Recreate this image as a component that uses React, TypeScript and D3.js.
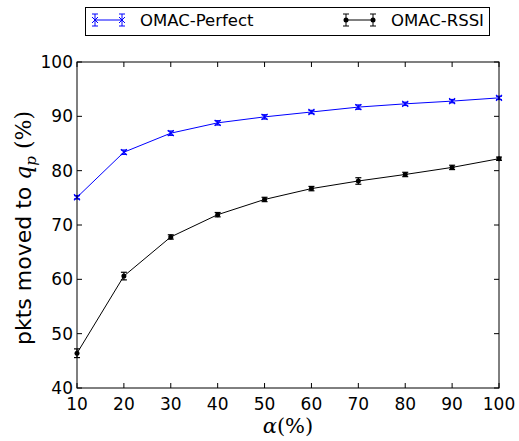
import React from "react";
import * as d3 from "d3";

const alphas = [10, 20, 30, 40, 50, 60, 70, 80, 90, 100];
const perfect = [75.1, 83.4, 86.9, 88.8, 89.9, 90.8, 91.7, 92.3, 92.8, 93.4];
const perfectErr = [0.3, 0.4, 0.4, 0.4, 0.4, 0.3, 0.4, 0.3, 0.3, 0.3];
const rssi = [46.4, 60.6, 67.8, 71.9, 74.7, 76.7, 78.1, 79.3, 80.6, 82.2];
const rssiErr = [0.8, 0.7, 0.4, 0.4, 0.4, 0.4, 0.6, 0.4, 0.4, 0.3];
const yTicks = [40, 50, 60, 70, 80, 90, 100];

const W = 519;
const H = 441;
const M = { left: 77, right: 20, top: 62, bottom: 53 };
const FONT = "DejaVu Sans, sans-serif";
const SERIF = "DejaVu Serif, Liberation Serif, serif";

function Series({ ys, errs, color, marker, x, y }: any) {
  const line = d3
    .line<number>()
    .x((_, i) => x(alphas[i]))
    .y((d) => y(d));
  return (
    <g>
      <path d={line(ys) || ""} fill="none" stroke={color} strokeWidth={1} />
      {ys.map((v: number, i: number) => {
        const cx = x(alphas[i]);
        const top = y(v + errs[i]);
        const bot = y(v - errs[i]);
        return (
          <g key={i} stroke={color} strokeWidth={1.2}>
            <line x1={cx} x2={cx} y1={top} y2={bot} />
            <line x1={cx - 3} x2={cx + 3} y1={top} y2={top} />
            <line x1={cx - 3} x2={cx + 3} y1={bot} y2={bot} />
            {marker === "x" ? (
              <path
                d={`M${cx - 3},${y(v) - 3}L${cx + 3},${y(v) + 3}M${cx - 3},${y(v) + 3}L${cx + 3},${y(v) - 3}`}
              />
            ) : (
              <circle cx={cx} cy={y(v)} r={2.5} fill={color} stroke="none" />
            )}
          </g>
        );
      })}
    </g>
  );
}

function LegendItem({ x0, color, marker, label }: any) {
  const yy = 20;
  const ex = [x0, x0 + 27];
  return (
    <g>
      <line x1={ex[0]} x2={ex[1]} y1={yy} y2={yy} stroke={color} />
      {ex.map((cx, i) => (
        <g key={i} stroke={color}>
          <line x1={cx} x2={cx} y1={yy - 6} y2={yy + 6} />
          <line x1={cx - 3} x2={cx + 3} y1={yy - 6} y2={yy - 6} />
          <line x1={cx - 3} x2={cx + 3} y1={yy + 6} y2={yy + 6} />
          {marker === "x" ? (
            <path d={`M${cx - 3},${yy - 3}L${cx + 3},${yy + 3}M${cx - 3},${yy + 3}L${cx + 3},${yy - 3}`} />
          ) : (
            <circle cx={cx} cy={yy} r={2.5} fill={color} stroke="none" />
          )}
        </g>
      ))}
      <text x={x0 + 45} y={yy + 6} fontSize={16.5} fontFamily={FONT} fill="#000">
        {label}
      </text>
    </g>
  );
}

export default function App() {
  const x = d3.scaleLinear().domain([10, 100]).range([M.left, W - M.right]);
  const y = d3.scaleLinear().domain([40, 100]).range([H - M.bottom, M.top]);
  const [x0, x1] = x.range();
  const [y0, y1] = y.range();

  return (
    <svg width={W} height={H} style={{ position: "absolute", left: 0, top: 0 }}>
      <rect width={W} height={H} fill="#fff" />
      {/* legend */}
      <rect x={85.5} y={7.5} width={404} height={28} fill="#fff" stroke="#000" strokeWidth={1} />
      <LegendItem x0={95} color="#0000ff" marker="x" label="OMAC-Perfect" />
      <LegendItem x0={346} color="#000" marker="o" label="OMAC-RSSI" />

      <Series ys={perfect} errs={perfectErr} color="#0000ff" marker="x" x={x} y={y} />
      <Series ys={rssi} errs={rssiErr} color="#000" marker="o" x={x} y={y} />

      {/* frame */}
      <rect x={x0} y={y1} width={x1 - x0} height={y0 - y1} fill="none" stroke="#000" strokeWidth={1} />

      {alphas.map((a) => (
        <g key={a}>
          <line x1={x(a)} x2={x(a)} y1={y0} y2={y0 - 5} stroke="#000" />
          <line x1={x(a)} x2={x(a)} y1={y1} y2={y1 + 5} stroke="#000" />
          <text x={x(a)} y={y0 + 22} textAnchor="middle" fontSize={17} fontFamily={FONT}>
            {a}
          </text>
        </g>
      ))}
      {yTicks.map((t) => (
        <g key={t}>
          <line x1={x0} x2={x0 + 5} y1={y(t)} y2={y(t)} stroke="#000" />
          <line x1={x1} x2={x1 - 5} y1={y(t)} y2={y(t)} stroke="#000" />
          <text x={x0 - 4} y={y(t) + 6} textAnchor="end" fontSize={17} fontFamily={FONT}>
            {t}
          </text>
        </g>
      ))}

      <text x={(x0 + x1) / 2} y={433} textAnchor="middle" fontSize={21} fontFamily={SERIF}>
        <tspan fontStyle="italic">α</tspan>(%)
      </text>
      <text
        transform={`translate(31,${(y0 + y1) / 2 + 3}) rotate(-90)`}
        textAnchor="middle"
        fontSize={22}
        fontFamily={FONT}
      >
        pkts moved to{" "}
        <tspan fontFamily={SERIF} fontStyle="italic">q</tspan>
        <tspan fontFamily={SERIF} fontStyle="italic" fontSize={15} dy={5}>p</tspan>
        <tspan fontFamily={SERIF} dy={-5}> (%)</tspan>
      </text>
    </svg>
  );
}
